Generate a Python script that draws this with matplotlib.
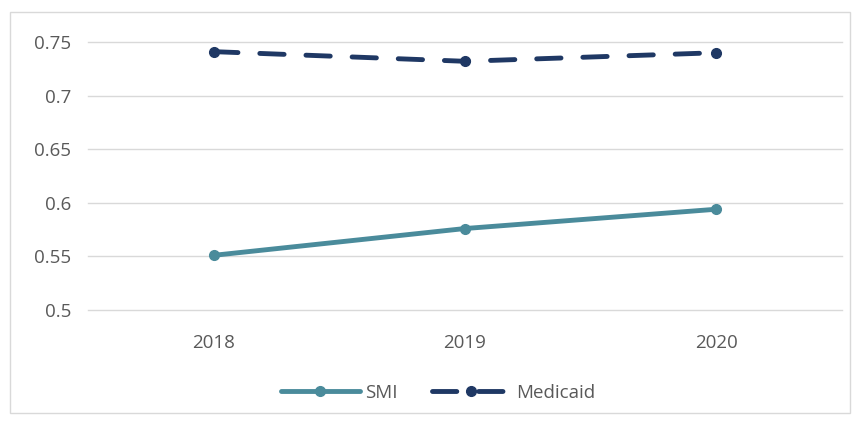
import matplotlib
matplotlib.use('Agg')
import matplotlib.pyplot as plt
from matplotlib.patches import Rectangle

years = ['2018', '2019', '2020']
smi = [0.551, 0.576, 0.594]
medicaid = [0.741, 0.732, 0.740]
yticks = [0.5, 0.55, 0.6, 0.65, 0.7, 0.75]
ytick_labels = ['0.5', '0.55', '0.6', '0.65', '0.7', '0.75']

W, H = 859, 425
plt.rcParams['font.family'] = ['Open Sans', 'DejaVu Sans']

fig = plt.figure(figsize=(W / 100, H / 100), dpi=100)
fig.patches.append(Rectangle((10 / W, 1 - 413 / H), 840 / W, 401 / H,
                             transform=fig.transFigure, fill=False,
                             edgecolor='#d9d9d9', linewidth=1))

ax = fig.add_axes([88 / W, 1 - 310 / H, (842 - 88) / W, (310 - 42) / H])
x = range(len(years))
ax.plot(x, smi, color='#4a8b9b', linewidth=3.5, marker='o', markersize=7,
        label='SMI', solid_capstyle='round')
ax.plot(x, medicaid, color='#1f3864', linewidth=3.5, marker='o', markersize=7,
        dashes=(5, 4.5), dash_capstyle='round', label='Medicaid')

ax.set_xlim(-0.5, 2.5)
ax.set_ylim(0.5, 0.75)
ax.set_yticks(yticks)
ax.set_yticklabels(ytick_labels)
ax.set_xticks(list(x))
ax.set_xticklabels(years)
ax.grid(axis='y', color='#d9d9d9', linewidth=1)
for gl in ax.get_ygridlines():
    gl.set_clip_on(False)
ax.set_axisbelow(True)
for s in ax.spines.values():
    s.set_visible(False)
ax.tick_params(length=0, colors='#595959', labelsize=13.5)
ax.tick_params(axis='y', pad=12)
ax.tick_params(axis='x', pad=17)

fig.legend(loc='center', bbox_to_anchor=(0.51, 1 - 393 / H), ncol=2,
           frameon=False, fontsize=13.5, labelcolor='#595959',
           handlelength=4.2, columnspacing=1.8, handletextpad=0.3)

fig.savefig('out.png', dpi=100)
